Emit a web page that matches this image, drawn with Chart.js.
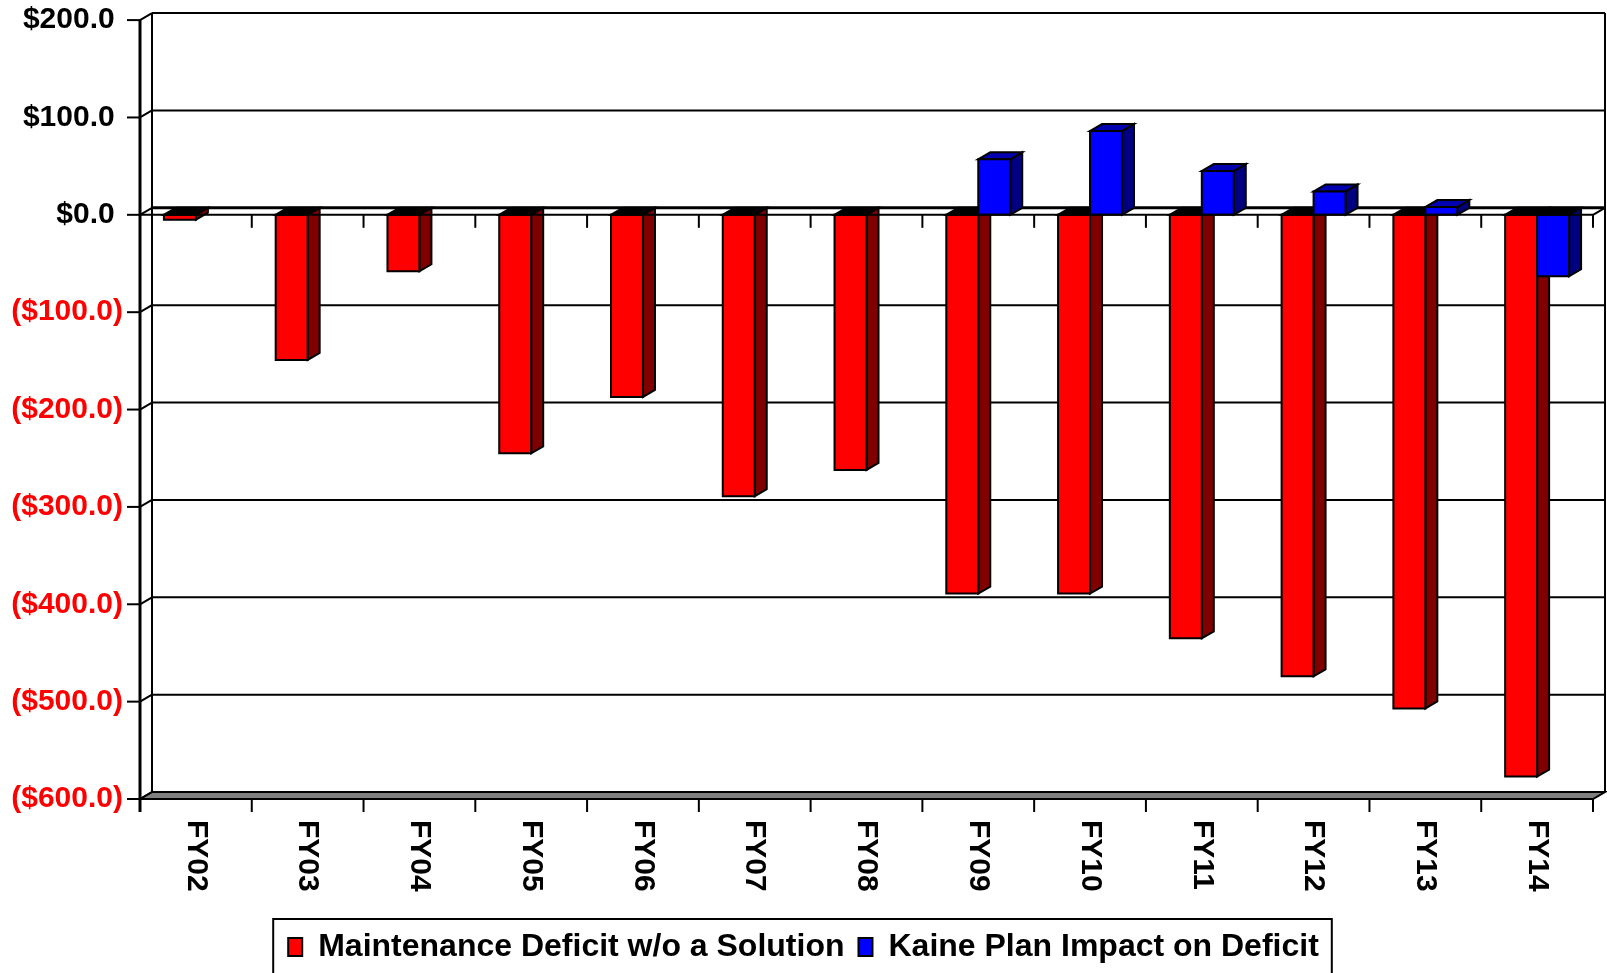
<!DOCTYPE html>
<html>
<head>
<meta charset="utf-8">
<script src="https://cdn.jsdelivr.net/npm/chart.js@4/dist/chart.umd.min.js"></script>
<style>
html,body{margin:0;padding:0;background:#fff;}
#wrap{width:1607px;height:973px;position:relative;}
</style>
</head>
<body>
<div id="wrap"><canvas id="c" width="1607" height="973"></canvas></div>
<script>
const categories = ['FY02','FY03','FY04','FY05','FY06','FY07','FY08','FY09','FY10','FY11','FY12','FY13','FY14'];
const maintenanceDeficit = [-5, -149, -58, -245, -187, -289, -262, -389, -389, -435, -474, -507, -577];
const kaineImpact = [null, null, null, null, null, null, null, 57, 86, 45, 24, 8, -63];
const yTicks = [200, 100, 0, -100, -200, -300, -400, -500, -600];
const seriesNames = ['Maintenance Deficit w/o a Solution', 'Kaine Plan Impact on Deficit'];

const FONT = '"Liberation Sans", Arial, sans-serif';
const DX = 12, DY = -7;

function fmt(v){
  if (v < 0) return '($' + Math.abs(v).toFixed(1) + ')';
  return '$' + v.toFixed(1) + ' ';
}

const threeD = {
  id: 'threeD',
  beforeDatasetsDraw(chart){
    const ctx = chart.ctx, a = chart.chartArea, y = chart.scales.y;
    ctx.save();
    ctx.lineWidth = 2; ctx.strokeStyle = '#000';
    const L = a.left, R = a.right, T = a.top, B = a.bottom;
    ctx.fillStyle = '#808080';
    ctx.beginPath();
    ctx.moveTo(L, B); ctx.lineTo(L+DX, B+DY); ctx.lineTo(R+DX, B+DY); ctx.lineTo(R, B); ctx.closePath();
    ctx.fill(); ctx.stroke();
    yTicks.forEach(v => {
      const py = y.getPixelForValue(v);
      ctx.lineWidth = (v === 0) ? 3 : 2;
      ctx.beginPath(); ctx.moveTo(L+DX, py+DY); ctx.lineTo(R+DX, py+DY); ctx.stroke();
      ctx.lineWidth = 2;
      ctx.beginPath(); ctx.moveTo(L, py); ctx.lineTo(L+DX, py+DY); ctx.stroke();
      ctx.beginPath(); ctx.moveTo(L-13, py); ctx.lineTo(L, py); ctx.stroke();
    });
    ctx.lineWidth = 2;
    ctx.beginPath(); ctx.moveTo(L+DX, T+DY); ctx.lineTo(L+DX, B+DY); ctx.stroke();
    ctx.beginPath(); ctx.moveTo(R+DX, T+DY); ctx.lineTo(R+DX, B+DY); ctx.stroke();
    ctx.lineWidth = 3;
    ctx.beginPath(); ctx.moveTo(L, T); ctx.lineTo(L, B+13); ctx.stroke();
    ctx.lineWidth = 2;
    const n = categories.length;
    const step = (R - L) / n;
    for (let i = 0; i <= n; i++){
      const px = L + i*step;
      ctx.beginPath(); ctx.moveTo(px, B); ctx.lineTo(px, B+13); ctx.stroke();
    }
    ctx.restore();
  },
  afterDatasetsDraw(chart){
    const ctx = chart.ctx, a = chart.chartArea, y = chart.scales.y;
    const y0 = y.getPixelForValue(0);
    const styles = [
      {front:'#ff0000', side:'#800000', top:'#000000', topPos:'#c00000'},
      {front:'#0000ff', side:'#000080', top:'#000000', topPos:'#0000b0'}
    ];
    ctx.save();
    ctx.lineWidth = 2; ctx.strokeStyle = '#000'; ctx.lineJoin = 'miter';
    const metas = [chart.getDatasetMeta(0), chart.getDatasetMeta(1)];
    function poly(pts, fill){
      ctx.beginPath(); ctx.moveTo(pts[0][0], pts[0][1]);
      for (let k = 1; k < pts.length; k++) ctx.lineTo(pts[k][0], pts[k][1]);
      ctx.closePath(); ctx.fillStyle = fill; ctx.fill(); ctx.stroke();
    }
    for (let i = 0; i < categories.length; i++){
      for (let d = 0; d < 2; d++){
        const el = metas[d].data[i];
        const val = chart.data.datasets[d].data[i];
        if (val === null || val === undefined || !el) continue;
        const x1 = el.x - el.width/2, x2 = el.x + el.width/2;
        const top = Math.min(el.y, el.base), bot = Math.max(el.y, el.base);
        const s = styles[d];
        poly([[x2, top],[x2+DX, top+DY],[x2+DX, bot+DY],[x2, bot]], s.side);
        poly([[x1, top],[x2, top],[x2+DX, top+DY],[x1+DX, top+DY]], val < 0 ? s.top : s.topPos);
        poly([[x1, top],[x2, top],[x2, bot],[x1, bot]], s.front);
      }
    }
    ctx.lineWidth = 2;
    ctx.beginPath(); ctx.moveTo(a.left, y0); ctx.lineTo(a.right, y0); ctx.stroke();
    ctx.beginPath(); ctx.moveTo(a.right, y0); ctx.lineTo(a.right+DX, y0+DY); ctx.stroke();
    const n = categories.length, step = (a.right - a.left)/n;
    for (let i = 1; i <= n; i++){
      const px = a.left + i*step;
      ctx.beginPath(); ctx.moveTo(px, y0); ctx.lineTo(px, y0+13); ctx.stroke();
    }
    ctx.restore();
  },
  afterDraw(chart){
    const ctx = chart.ctx, a = chart.chartArea, x = chart.scales.x;
    ctx.save();
    ctx.font = 'bold 30px ' + FONT;
    ctx.fillStyle = '#000';
    ctx.textAlign = 'left'; ctx.textBaseline = 'middle';
    categories.forEach((c, i) => {
      const px = x.getPixelForValue(i);
      ctx.save();
      ctx.translate(px, a.bottom + 21);
      ctx.rotate(Math.PI/2);
      ctx.fillText(c, 0, 0);
      ctx.restore();
    });
    const lg = chart.legend;
    if (lg && lg.legendHitBoxes && lg.legendHitBoxes.length){
      const hb = lg.legendHitBoxes;
      const l = hb[0].left - 15;
      const r = hb[hb.length-1].left + hb[hb.length-1].width + 13;
      const t = hb[0].top + hb[0].height/2 - 28;
      ctx.lineWidth = 2; ctx.strokeStyle = '#000';
      ctx.strokeRect(l, t, r - l, 100);
    }
    ctx.restore();
  }
};

new Chart(document.getElementById('c'), {
  type: 'bar',
  data: {
    labels: categories,
    datasets: [
      {label: seriesNames[0], data: maintenanceDeficit, backgroundColor:'#ff0000', borderColor:'#000', borderWidth:2},
      {label: seriesNames[1], data: kaineImpact, backgroundColor:'#0000ff', borderColor:'#000', borderWidth:2}
    ]
  },
  options: {
    responsive: false,
    animation: false,
    devicePixelRatio: 1,
    categoryPercentage: 0.572,
    barPercentage: 1.0,
    layout: {padding: {top: 1, right: 0, left: 0, bottom: 0}},
    datasets: {bar: {borderSkipped: false}},
    plugins: {
      tooltip: {enabled: false},
      legend: {
        position: 'bottom',
        labels: {
          font: {family: FONT, size: 32, weight: 'bold'},
          color: '#000',
          boxWidth: 14, boxHeight: 18,
          padding: 14
        }
      }
    },
    scales: {
      x: {
        grid: {display: false},
        border: {display: false},
        ticks: {display: false},
        afterFit(s){ s.height = 118; }
      },
      y: {
        min: -600, max: 200,
        afterBuildTicks(s){ s.ticks = yTicks.map(v => ({value: v})); },
        grid: {display: false},
        border: {display: false},
        ticks: {
          padding: 9,
          font: {family: FONT, size: 30, weight: 'bold', lineHeight: 0.74},
          color: ctx => (ctx.tick && ctx.tick.value < 0) ? '#ff0000' : '#000',
          callback: v => fmt(v)
        },
        afterFit(s){ s.width = 140; }
      },
      yr: {
        position: 'right',
        grid: {display: false},
        border: {display: false},
        ticks: {display: false},
        afterFit(s){ s.width = 14; }
      }
    }
  },
  plugins: [threeD]
});
</script>
</body>
</html>
